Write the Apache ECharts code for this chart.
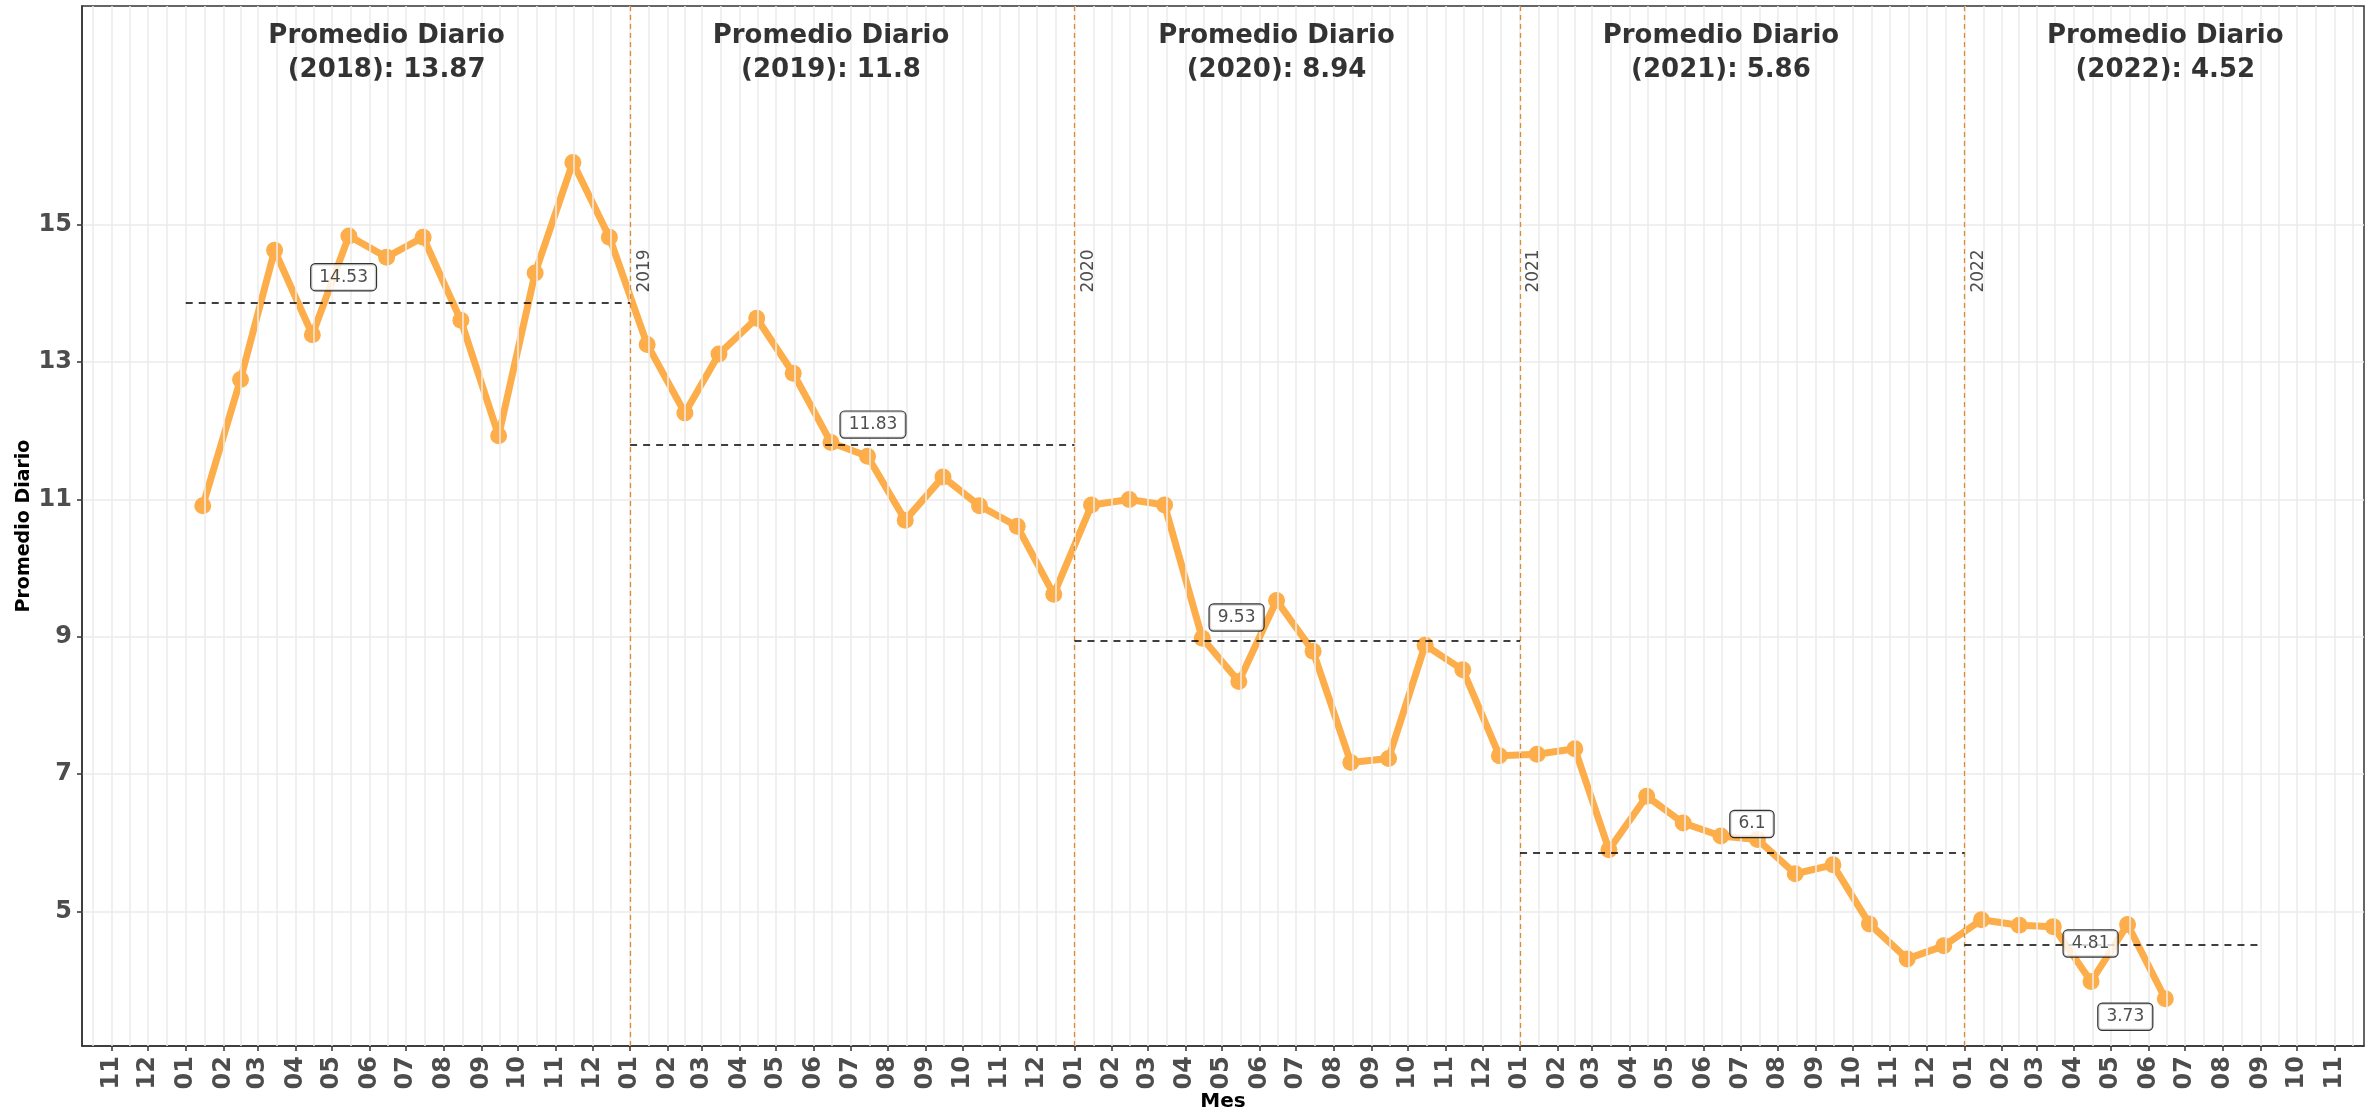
<!DOCTYPE html>
<html><head><meta charset="utf-8">
<script src="https://cdn.jsdelivr.net/npm/echarts@6/dist/echarts.min.js"></script>
<style>html,body{margin:0;padding:0;background:#fff}#chart{width:2377px;height:1110px}</style>
</head><body><div id="chart"></div>
<script>
// ---- data ----
const tickMonths = [
 '2017-11','2017-12',
 '2018-01','2018-02','2018-03','2018-04','2018-05','2018-06','2018-07','2018-08','2018-09','2018-10','2018-11','2018-12',
 '2019-01','2019-02','2019-03','2019-04','2019-05','2019-06','2019-07','2019-08','2019-09','2019-10','2019-11','2019-12',
 '2020-01','2020-02','2020-03','2020-04','2020-05','2020-06','2020-07','2020-08','2020-09','2020-10','2020-11','2020-12',
 '2021-01','2021-02','2021-03','2021-04','2021-05','2021-06','2021-07','2021-08','2021-09','2021-10','2021-11','2021-12',
 '2022-01','2022-02','2022-03','2022-04','2022-05','2022-06','2022-07','2022-08','2022-09','2022-10','2022-11'];
const tickLabels = tickMonths.map(m => m.slice(5));

const months = [
 '2018-01','2018-02','2018-03','2018-04','2018-05','2018-06','2018-07','2018-08','2018-09','2018-10','2018-11','2018-12',
 '2019-01','2019-02','2019-03','2019-04','2019-05','2019-06','2019-07','2019-08','2019-09','2019-10','2019-11','2019-12',
 '2020-01','2020-02','2020-03','2020-04','2020-05','2020-06','2020-07','2020-08','2020-09','2020-10','2020-11','2020-12',
 '2021-01','2021-02','2021-03','2021-04','2021-05','2021-06','2021-07','2021-08','2021-09','2021-10','2021-11','2021-12',
 '2022-01','2022-02','2022-03','2022-04','2022-05','2022-06'];
const values = [
 10.91, 12.75, 14.63, 13.40, 14.84, 14.53, 14.82, 13.61, 11.93, 14.30, 15.91, 14.82,
 13.26, 12.26, 13.12, 13.64, 12.84, 11.83, 11.63, 10.70, 11.33, 10.91, 10.61, 9.62,
 10.92, 11.00, 10.92, 8.98, 8.35, 9.53, 8.79, 7.17, 7.23, 8.88, 8.52, 7.27,
 7.29, 7.37, 5.90, 6.68, 6.29, 6.10, 6.05, 5.55, 5.68, 4.82, 4.31, 4.50,
 4.88, 4.80, 4.78, 3.98, 4.81, 3.73];

const years = ['2018','2019','2020','2021','2022'];
const yearAvg = [13.87, 11.8, 8.94, 5.86, 4.52];
const avgStart = ['2018-01-01','2019-01-01','2020-01-01','2021-01-01','2022-01-01'];
const avgEnd   = ['2019-01-01','2020-01-01','2021-01-01','2022-01-01','2022-09-01'];
const titleDates = ['2018-06-15','2019-06-15','2020-06-15','2021-06-15','2022-06-15'];
const titleY = 17.5;
const yearLineDates = ['2019-01-01','2020-01-01','2021-01-01','2022-01-01'];
const yearLineLabels = ['2019','2020','2021','2022'];
const yearTextY = 14.3;
const yTickLabels = [5, 7, 9, 11, 13, 15];
const labeledMonths = ['2018-06','2019-06','2020-06','2021-06','2022-05','2022-06'];

// ---- styles ----
const labelOffsets = [[-43, 20], [42, -18], [-40, 17], [31, -12], [-37, 19], [-40, 18]];
const FONT = 'DejaVu Sans';
const LINE_COLOR = '#FDAE4A';

// ---- helpers ----
function dayOf(s) {
  const y = +s.slice(0, 4), m = +s.slice(5, 7) - 1, d = s.length > 7 ? +s.slice(8, 10) : 1;
  return Date.UTC(y, m, d) / 86400000;
}
const fmt = v => String(+v.toFixed(2));

const limLo = dayOf(avgStart[0]), limHi = dayOf(avgEnd[avgEnd.length - 1]);
const xPad = 0.05 * (limHi - limLo);
const xMin = limLo - xPad, xMax = limHi + xPad;
const dataMin = Math.min(...values), dataMax = titleY;
const yPad = 0.05 * (dataMax - dataMin);
const yMin = dataMin - yPad, yMax = dataMax + yPad;

const tickX = tickMonths.map(dayOf);
const labelByX = {};
tickX.forEach((x, i) => { labelByX[x] = tickLabels[i]; });

const first = tickMonths[0], last = tickMonths[tickMonths.length - 1];
const before = Date.UTC(+first.slice(0, 4), +first.slice(5, 7) - 2, 1) / 86400000;
const after = Date.UTC(+last.slice(0, 4), +last.slice(5, 7), 1) / 86400000;
const extStarts = [before, ...tickX, after];
const minorX = [];
for (let i = 0; i < extStarts.length - 1; i++) minorX.push((extStarts[i] + extStarts[i + 1]) / 2);

const gridLineStyle = { color: '#EBEBEB', width: 1.5, type: 'solid' };
const vGrid = [...tickX, ...minorX].filter(x => x > xMin && x < xMax)
  .map(x => ({ xAxis: x, lineStyle: gridLineStyle }));
const yearLines = yearLineDates.map(d => ({
  xAxis: dayOf(d), lineStyle: { color: '#DE8C33', width: 1.3, type: [5, 4] }
}));

const mainData = months.map((m, i) => [dayOf(m + '-15'), values[i]]);

const labelData = labeledMonths.map((m, k) => {
  const i = months.indexOf(m);
  return { value: [dayOf(m + '-15'), values[i]], label: { offset: labelOffsets[k] } };
});

const avgLines = yearAvg.map((v, i) => [
  { coord: [dayOf(avgStart[i]), v] },
  { coord: [dayOf(avgEnd[i]), v] }
]);

const titleData = years.map((y, i) => ({
  value: [dayOf(titleDates[i]), titleY],
  name: 'Promedio Diario\n(' + y + '): ' + fmt(yearAvg[i])
}));
const yearTextData = yearLineDates.map((d, i) => ({
  value: [dayOf(d), yearTextY], name: yearLineLabels[i]
}));

const chart = echarts.init(document.getElementById('chart'), null, { renderer: 'canvas' });
chart.setOption({
  animation: false,
  backgroundColor: '#ffffff',
  grid: { left: 82, right: 13, top: 6, bottom: 64, show: true, borderColor: '#333333', borderWidth: 1.5,
          containLabel: false, outerBoundsMode: 'none' },
  xAxis: {
    type: 'value', min: xMin, max: xMax,
    name: 'Mes', nameLocation: 'middle', nameGap: 46, nameMoveOverlap: false,
    nameTextStyle: { fontFamily: FONT, fontWeight: 'bold', fontSize: 20, color: '#000' },
    splitLine: { show: false },
    axisLine: { show: true, lineStyle: { color: '#333333', width: 1.5 } },
    axisTick: { show: true, customValues: tickX, length: 5, lineStyle: { color: '#333333', width: 1.5 } },
    axisLabel: {
      customValues: tickX, rotate: 90, margin: 10,
      formatter: v => labelByX[v] || '',
      fontFamily: FONT, fontWeight: 'bold', fontSize: 24, color: '#4D4D4D'
    }
  },
  yAxis: {
    type: 'value', min: yMin, max: yMax, minInterval: 1, maxInterval: 1, splitNumber: 15,
    name: 'Promedio Diario', nameLocation: 'middle', nameGap: 48, nameRotate: 90, nameMoveOverlap: false,
    nameTextStyle: { fontFamily: FONT, fontWeight: 'bold', fontSize: 19, color: '#000' },
    splitLine: { show: true, lineStyle: gridLineStyle },
    axisLine: { show: true, lineStyle: { color: '#333333', width: 1.5 } },
    axisTick: { show: true, customValues: yTickLabels, length: 5, lineStyle: { color: '#333333', width: 1.5 } },
    axisLabel: {
      customValues: yTickLabels, margin: 10,
      formatter: v => String(v),
      fontFamily: FONT, fontWeight: 'bold', fontSize: 24, color: '#4D4D4D'
    }
  },
  series: [
    {
      name: 'grid', type: 'line', z: 1, silent: true, symbol: 'none',
      data: [[xMin, yMin]], lineStyle: { opacity: 0 },
      markLine: { silent: true, symbol: ['none', 'none'], label: { show: false }, animation: false,
        data: [...vGrid, ...yearLines] }
    },
    {
      name: 'Promedio Diario', type: 'line', z: 3, data: mainData,
      symbol: 'circle', symbolSize: 17, showSymbol: true,
      lineStyle: { color: LINE_COLOR, width: 7 },
      itemStyle: { color: LINE_COLOR }
    },
    {
      name: 'promedios', type: 'line', z: 4, silent: true, symbol: 'none',
      data: [[xMin, yMin]], lineStyle: { opacity: 0 },
      markLine: { silent: true, symbol: ['none', 'none'], label: { show: false }, animation: false,
        lineStyle: { color: '#000', width: 1.5, type: [7, 6] },
        data: avgLines }
    },
    {
      name: 'etiquetas', type: 'scatter', z: 6, silent: true, symbolSize: 1,
      itemStyle: { color: 'transparent' },
      data: labelData,
      label: {
        show: true, position: 'inside', formatter: p => fmt(p.value[1]),
        fontFamily: FONT, fontSize: 17, color: '#222', lineHeight: 20,
        backgroundColor: '#fff', borderColor: '#000', borderWidth: 1.2, borderRadius: 4,
        padding: [3, 8, 3, 8]
      }
    },
    {
      name: 'titulos', type: 'scatter', z: 5, silent: true, symbolSize: 1,
      itemStyle: { color: 'transparent' },
      data: titleData,
      label: {
        show: true, position: 'inside', formatter: p => p.name,
        fontFamily: FONT, fontWeight: 'bold', fontSize: 26, lineHeight: 34, color: '#000', align: 'center'
      }
    },
    {
      name: 'anios', type: 'scatter', z: 5, silent: true, symbolSize: 1,
      itemStyle: { color: 'transparent' },
      data: yearTextData,
      label: {
        show: true, position: 'inside', formatter: p => p.name, rotate: 90, offset: [2, 14],
        fontFamily: FONT, fontSize: 17, color: '#222', align: 'center', verticalAlign: 'middle'
      }
    }
  ]
});
</script>
</body></html>
